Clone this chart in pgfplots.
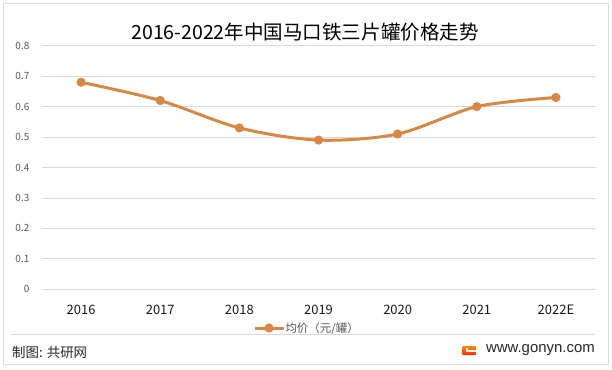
\documentclass[border=0pt]{standalone}
\usepackage{pgfplots}
\pgfplotsset{compat=1.18}
\usepackage{fontspec}
\setmainfont{Noto Sans CJK SC}
\newfontfamily\cjk{Noto Sans CJK SC}
\newfontfamily\lat{Liberation Sans}
\definecolor{lineC}{RGB}{214,136,68}
\definecolor{gridC}{RGB}{217,217,217}
\definecolor{tickC}{RGB}{89,89,89}
\begin{document}
\begin{tikzpicture}[x=1bp,y=1bp]
\fill[white] (0,0) rectangle (612,369);
\draw[gridC, line width=0.8bp] (3,5) rectangle (608,366);
\begin{axis}[
  at={(41.5bp,79.7bp)}, anchor=south west,
  scale only axis, width=554bp, height=243.6bp,
  xmin=-0.5, xmax=6.5, ymin=0, ymax=0.8,
  xtick={0,...,6},
  xticklabels={2016,2017,2018,2019,2020,2021,2022E},
  ytick={0,0.1,...,0.8},
  yticklabels={0,0.1,0.2,0.3,0.4,0.5,0.6,0.7,0.8},
  axis line style={draw=none},
  major tick length=0pt,
  ymajorgrids, grid style={gridC, line width=0.8bp},
  xticklabel style={font=\fontsize{13}{15}\selectfont, text=black!90, anchor=base, inner sep=0pt, yshift=-25bp},
  yticklabel style={font=\fontsize{10}{12}\selectfont, text=tickC, anchor=east, inner sep=0pt, xshift=-12bp},
  /pgf/number format/assume math mode=true,
  legend style={at={(0.3818,-0.159)}, anchor=west, draw=none, fill=none,
    font=\fontsize{11.5}{13}\selectfont, text=tickC,
    legend columns=1, inner sep=0pt, outer sep=0pt,
    nodes={inner sep=0.5bp}},
  legend image code/.code={
    \draw[lineC, line width=3bp] (0bp,0bp) -- (29bp,0bp);
    \fill[lineC] (14.5bp,0bp) circle (3bp);
  },
]
\addplot[lineC, line width=3bp, smooth, tension=0.5, mark=*, mark size=3bp,
  mark options={fill=lineC, draw=lineC}]
  coordinates {(0,0.68) (1,0.62) (2,0.53) (3,0.49) (4,0.51) (5,0.60) (6,0.63)};
\addlegendentry{均价（元/罐）}
\end{axis}
\node[font=\cjk\fontsize{19.6}{21}\selectfont, text=black] at (305,337) {2016-2022年中国马口铁三片罐价格走势};
\draw[gridC, line width=0.8bp] (11,35) -- (595,35);
\node[font=\cjk\fontsize{13.5}{15}\selectfont, anchor=west, inner sep=0pt, text=black!85] at (12,17) {制图: 共研网};
\shade[top color=orange!90!yellow, bottom color=red!70!orange, rounded corners=1bp] (462,14) rectangle (476,23);
\fill[white] (466,17.5) rectangle (476,19);
\fill[white] (466,17.5) rectangle (467.5,21);
\node[font=\lat\fontsize{15}{17}\selectfont, anchor=east, inner sep=0pt, text=black!85] at (595,19) {www.gonyn.com};
\end{tikzpicture}
\end{document}
